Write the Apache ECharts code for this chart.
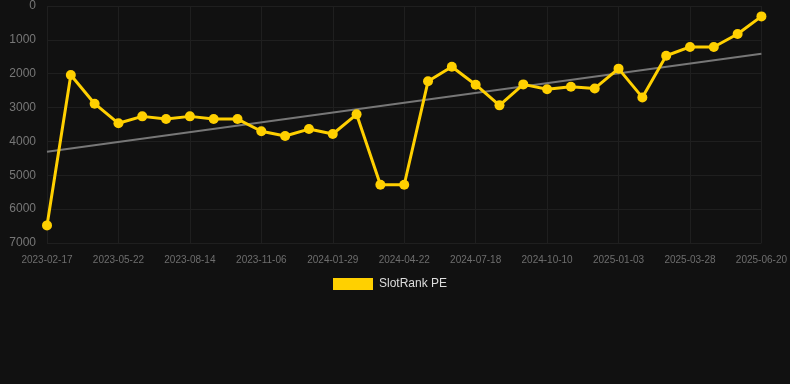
<!DOCTYPE html>
<html><head><meta charset="utf-8">
<script src="https://cdn.jsdelivr.net/npm/echarts@6/dist/echarts.min.js"></script>
<style>html,body{margin:0;padding:0;background:#111111;}#c{width:790px;height:384px;}</style>
</head><body><div id="c"></div>
<script>
var categories = ['2023-02-17','2023-03-20','2023-04-21','2023-05-22','2023-06-19','2023-07-17','2023-08-14','2023-09-11','2023-10-09','2023-11-06','2023-12-04','2024-01-01','2024-01-29','2024-02-26','2024-03-25','2024-04-22','2024-05-20','2024-06-18','2024-07-18','2024-08-15','2024-09-12','2024-10-10','2024-11-07','2024-12-06','2025-01-03','2025-01-31','2025-02-28','2025-03-28','2025-04-25','2025-05-23','2025-06-20'];
var seriesName = 'SlotRank PE';
var values = [6480,2040,2885,3465,3260,3340,3260,3340,3340,3700,3840,3635,3780,3200,5280,5280,2225,1795,2325,2935,2315,2460,2385,2435,1850,2700,1470,1210,1210,828,307];
var yTicks = [0,1000,2000,3000,4000,5000,6000,7000];

// least-squares trend line computed from the data
var n = values.length, sx=0, sy=0, sxx=0, sxy=0;
for (var i=0;i<n;i++){sx+=i;sy+=values[i];sxx+=i*i;sxy+=i*values[i];}
var slope=(n*sxy-sx*sy)/(n*sxx-sx*sx), icpt=(sy-slope*sx)/n;
var trend = [[categories[0], icpt],[categories[n-1], icpt+slope*(n-1)]];

var chart = echarts.init(document.getElementById('c'));
chart.setOption({
  backgroundColor:'#111111',
  animation:false,
  grid:{left:47,right:28,top:6,bottom:141,containLabel:false},
  legend:{data:[seriesName],top:278,left:333,padding:0,itemWidth:40,itemHeight:12,itemGap:10,icon:'rect',
    textStyle:{color:'#dddddd',fontSize:12,padding:[0,0,0,1],fontFamily:'Arial, Liberation Sans, sans-serif'}},
  xAxis:{type:'category',data:categories,boundaryGap:false,
    axisLine:{show:false},
    axisTick:{show:true,interval:2,length:6,lineStyle:{color:'#1f1f1f'}},
    splitLine:{show:true,interval:2,lineStyle:{color:'#1f1f1f'}},
    axisLabel:{interval:2,color:'#6e6e6e',fontSize:10,margin:12,fontFamily:'Arial, Liberation Sans, sans-serif'}},
  yAxis:{type:'value',inverse:true,min:yTicks[0],max:yTicks[yTicks.length-1],interval:1000,
    axisLine:{show:false},axisTick:{show:false},
    splitLine:{lineStyle:{color:'#1f1f1f'}},
    axisLabel:{color:'#777777',fontSize:12,margin:11,formatter:function(v){return String(v);},fontFamily:'Arial, Liberation Sans, sans-serif'}},
  series:[
    {name:seriesName,type:'line',data:values,symbol:'circle',symbolSize:10,
     lineStyle:{color:'#ffd000',width:3},itemStyle:{color:'#ffd000'},z:3},
    {name:'trend',type:'line',data:trend,symbol:'none',silent:true,
     lineStyle:{color:'#777777',width:2},z:2}
  ]
});
</script></body></html>
